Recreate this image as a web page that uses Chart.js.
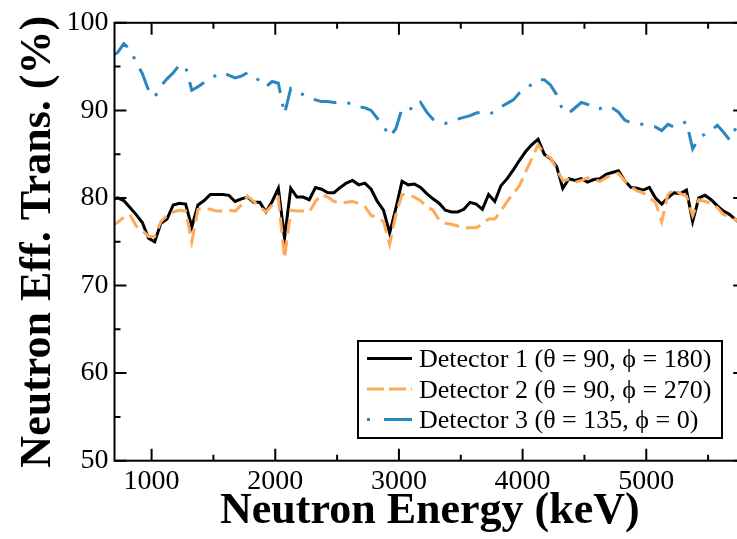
<!DOCTYPE html>
<html>
<head>
<meta charset="utf-8">
<script src="https://cdn.jsdelivr.net/npm/chart.js@4.4.1/dist/chart.umd.min.js"></script>
<style>
  html, body { margin: 0; padding: 0; background: #fff; overflow: hidden; }
  canvas { display: block; }
</style>
</head>
<body>
<canvas id="chart" width="760" height="539"></canvas>
<script>
// Neutron energy grid (keV)
const energies = [
  675, 725, 775, 825, 875, 925, 975, 1025, 1075, 1125,
  1175, 1225, 1275, 1325, 1375, 1425, 1475, 1525, 1575, 1625,
  1675, 1725, 1775, 1825, 1875, 1925, 1975, 2025, 2075, 2125,
  2175, 2225, 2275, 2325, 2375, 2425, 2475, 2525, 2575, 2625,
  2675, 2725, 2775, 2825, 2875, 2925, 2975, 3025, 3075, 3125,
  3175, 3225, 3275, 3325, 3375, 3425, 3475, 3525, 3575, 3625,
  3675, 3725, 3775, 3825, 3875, 3925, 3975, 4025, 4075, 4125,
  4175, 4225, 4275, 4325, 4375, 4425, 4475, 4525, 4575, 4625,
  4675, 4725, 4775, 4825, 4875, 4925, 4975, 5025, 5075, 5125,
  5175, 5225, 5275, 5325, 5375, 5425, 5475, 5525, 5575, 5625,
  5675, 5725, 5775
];

// Detector 1 (theta = 90, phi = 180)
const detector1 = [
  79.8, 80.0, 79.7, 78.9, 78.1, 77.2, 75.4, 75.0, 77.1, 77.6,
  79.2, 79.4, 79.3, 76.7, 79.2, 79.7, 80.4, 80.4, 80.4, 80.3,
  79.6, 79.9, 80.1, 79.5, 79.5, 78.4, 79.6, 81.1, 75.4, 81.1,
  80.1, 80.1, 79.8, 81.2, 81.0, 80.6, 80.6, 81.2, 81.7, 82.0,
  81.5, 81.7, 81.0, 79.6, 78.6, 76.0, 78.8, 81.9, 81.5, 81.6,
  81.2, 80.5, 79.9, 79.4, 78.6, 78.4, 78.4, 78.7, 79.5, 79.3,
  78.7, 80.4, 79.6, 81.4, 82.2, 83.2, 84.3, 85.3, 86.1, 86.7,
  85.0, 84.5, 83.6, 81.1, 82.2, 82.0, 82.2, 81.8, 82.1, 82.2,
  82.7, 82.9, 83.1, 82.0, 81.2, 81.1, 80.9, 81.2, 80.0, 79.3,
  80.0, 80.6, 80.5, 80.9, 77.3, 80.0, 80.3, 79.8, 79.1, 78.5,
  78.1, 77.5, 76.9
];

// Detector 2 (theta = 90, phi = 270)
const detector2 = [
  76.8, 77.2, 77.8, 78.1, 76.8, 76.3, 75.6, 75.6, 77.3, 78.0,
  78.4, 78.6, 78.5, 75.0, 78.7, 78.8, 78.7, 78.5, 78.5, 78.6,
  78.5, 79.2, 80.2, 79.6, 79.0, 78.4, 79.2, 80.0, 73.1, 78.6,
  78.5, 78.5, 78.4, 79.6, 80.4, 80.1, 79.6, 79.4, 79.5, 79.6,
  79.4, 79.0, 78.0, 77.8, 77.3, 74.7, 78.1, 80.4, 80.4, 80.1,
  79.7, 79.0, 78.6, 77.5, 77.1, 77.0, 76.8, 76.6, 76.6, 76.6,
  77.0, 77.6, 77.6, 78.5, 79.6, 80.5, 81.4, 83.0, 84.5, 86.1,
  85.0, 84.6, 83.3, 82.0, 82.1, 81.8, 82.0, 82.3, 82.1, 81.9,
  82.3, 82.7, 82.8, 82.0, 81.3, 80.8, 80.6, 80.0, 79.5, 77.3,
  80.4, 81.0, 80.5, 80.2, 78.0, 79.8, 79.6, 79.4, 78.9, 78.1,
  77.9, 77.5, 77.1
];

// Detector 3 (theta = 135, phi = 0)
const detector3 = [
  96.2, 96.6, 97.6, 97.0, 95.5, 94.2, 92.3, 91.5, 92.8, 93.6,
  94.3, 95.2, 95.0, 92.3, 92.7, 93.2, 93.7, 94.0, 94.3, 94.0,
  93.7, 93.9, 94.3, 93.8, 93.4, 92.7, 93.3, 93.1, 89.6, 92.5,
  92.1, 91.8, 91.4, 91.2, 91.0, 91.0, 90.9, 90.9, 90.9, 90.7,
  90.4, 90.3, 90.0, 89.1, 88.2, 87.0, 87.9, 90.2, 90.3, 90.05,
  90.9, 89.8, 89.0, 88.7, 88.5, 88.8, 89.0, 89.2, 89.4, 89.7,
  89.8, 89.6, 89.8, 90.4, 90.8, 91.2, 92.0, 92.4, 93.0, 93.5,
  93.5, 92.9, 91.8, 90.0, 89.7, 90.3, 90.9, 90.7, 90.2, 90.2,
  90.5, 90.3, 89.8, 88.9, 88.6, 88.5, 88.4, 88.2, 88.1, 87.7,
  88.4, 88.1, 88.4, 88.7, 85.6, 86.8, 87.3, 87.7, 88.3, 87.5,
  86.6, 88.0, 88.6
];

const seriesLabels = [
  "Detector 1 (θ = 90, ϕ = 180)",
  "Detector 2 (θ = 90, ϕ = 270)",
  "Detector 3 (θ = 135, ϕ = 0)"
];

const xMajorTicks = [1000, 2000, 3000, 4000, 5000];
const xMinorTicks = [1500, 2500, 3500, 4500, 5500];
const yMajorTicks = [50, 60, 70, 80, 90, 100];
const yMinorTicks = [55, 65, 75, 85, 95];

const SERIF = "'Liberation Serif', 'DejaVu Serif', serif";

// inward ticks on all four sides + frame
const frameTicks = {
    id: "frameTicks",
    afterDatasetsDraw(chart) {
        const { ctx, chartArea: a, scales } = chart;
        const x = scales.x;
        const y = scales.y;
        ctx.save();
        ctx.strokeStyle = "#000";
        ctx.lineWidth = 2;
        ctx.beginPath();
        const xt = (v, len) => {
            const p = x.getPixelForValue(v);
            ctx.moveTo(p, a.bottom); ctx.lineTo(p, a.bottom - len);
            ctx.moveTo(p, a.top); ctx.lineTo(p, a.top + len);
        };
        const yt = (v, len) => {
            const p = y.getPixelForValue(v);
            ctx.moveTo(a.left, p); ctx.lineTo(a.left + len, p);
            ctx.moveTo(a.right, p); ctx.lineTo(a.right - len, p);
        };
        xMajorTicks.forEach((v) => xt(v, 12));
        xMinorTicks.forEach((v) => xt(v, 6));
        yMajorTicks.forEach((v) => yt(v, 12));
        yMinorTicks.forEach((v) => yt(v, 6));
        ctx.stroke();
        ctx.strokeRect(a.left, a.top, a.right - a.left, a.bottom - a.top);
        ctx.restore();
    },
};

// legend box drawn inside the plot, lower right
const legendDash = [[], [17, 5], [3, 14, 28, 60]];
const legendBox = {
    id: "legendBox",
    afterDraw(chart) {
        const { ctx } = chart;
        const left = 358, top = 341, right = 722, bottom = 438;
        ctx.save();
        ctx.fillStyle = "#fff";
        ctx.fillRect(left, top, right - left, bottom - top);
        ctx.strokeStyle = "#000";
        ctx.lineWidth = 2;
        ctx.strokeRect(left, top, right - left, bottom - top);
        chart.data.datasets.forEach((ds, i) => {
            const rowY = top + 17.5 + i * 30.5;
            ctx.strokeStyle = ds.borderColor;
            ctx.lineWidth = ds.borderWidth;
            ctx.setLineDash(legendDash[i]);
            ctx.beginPath();
            ctx.moveTo(367, rowY);
            ctx.lineTo(412, rowY);
            ctx.stroke();
            ctx.setLineDash([]);
            ctx.fillStyle = "#000";
            ctx.font = "26px " + SERIF;
            ctx.textBaseline = "alphabetic";
            ctx.fillText(ds.label, 419, rowY + 8.5);
        });
        ctx.restore();
    },
};

const toPoints = (vals) => energies.map((e, i) => ({ x: e, y: vals[i] }));

new Chart(document.getElementById("chart"), {
    type: "line",
    data: {
        datasets: [
            {
                label: seriesLabels[0],
                data: toPoints(detector1),
                borderColor: "#000000",
                borderWidth: 3,
                pointRadius: 0,
                tension: 0,
                order: 2,
            },
            {
                label: seriesLabels[1],
                data: toPoints(detector2),
                borderColor: "#fbab5a",
                borderWidth: 3,
                borderDash: [15, 7],
                pointRadius: 0,
                tension: 0,
                order: 1,
            },
            {
                label: seriesLabels[2],
                data: toPoints(detector3),
                borderColor: "#2a85c0",
                borderWidth: 3,
                borderDash: [23, 11, 3, 11],
                pointRadius: 0,
                tension: 0,
                order: 3,
            },
        ],
    },
    options: {
        responsive: false,
        animation: false,
        devicePixelRatio: 1,
        layout: {
            padding: { left: 0, right: 14.8, top: 20, bottom: 0 },
        },
        scales: {
            x: {
                type: "linear",
                min: 700,
                max: 5800,
                afterBuildTicks: (s) => {
                    s.ticks = xMajorTicks.map((v) => ({ value: v }));
                },
                afterFit: (s) => {
                    s.height = 78.3;
                },
                grid: { display: false, drawTicks: false },
                border: { display: false },
                ticks: {
                    color: "#000",
                    font: { family: SERIF, size: 28 },
                    padding: 4,
                    maxRotation: 0,
                    autoSkip: false,
                    callback: (v) => String(v),
                },
                title: {
                    display: true,
                    text: "Neutron Energy (keV)",
                    color: "#000",
                    font: { family: SERIF, size: 44, weight: "bold" },
                    padding: { top: 0, bottom: 1 },
                },
            },
            y: {
                type: "linear",
                min: 50,
                max: 100,
                afterBuildTicks: (s) => {
                    s.ticks = yMajorTicks.map((v) => ({ value: v }));
                },
                afterFit: (s) => {
                    s.width = 114.5;
                },
                grid: { display: false, drawTicks: false },
                border: { display: false },
                ticks: {
                    color: "#000",
                    font: { family: SERIF, size: 28 },
                    padding: 6,
                    callback: (v) => String(v),
                },
                title: {
                    display: true,
                    text: "Neutron Eff. Trans. (%)",
                    color: "#000",
                    font: { family: SERIF, size: 44, weight: "bold" },
                    padding: { top: 12, bottom: 0 },
                },
            },
        },
        plugins: {
            legend: { display: false },
            tooltip: { enabled: false },
        },
    },
    plugins: [frameTicks, legendBox],
});
</script>
</body>
</html>
